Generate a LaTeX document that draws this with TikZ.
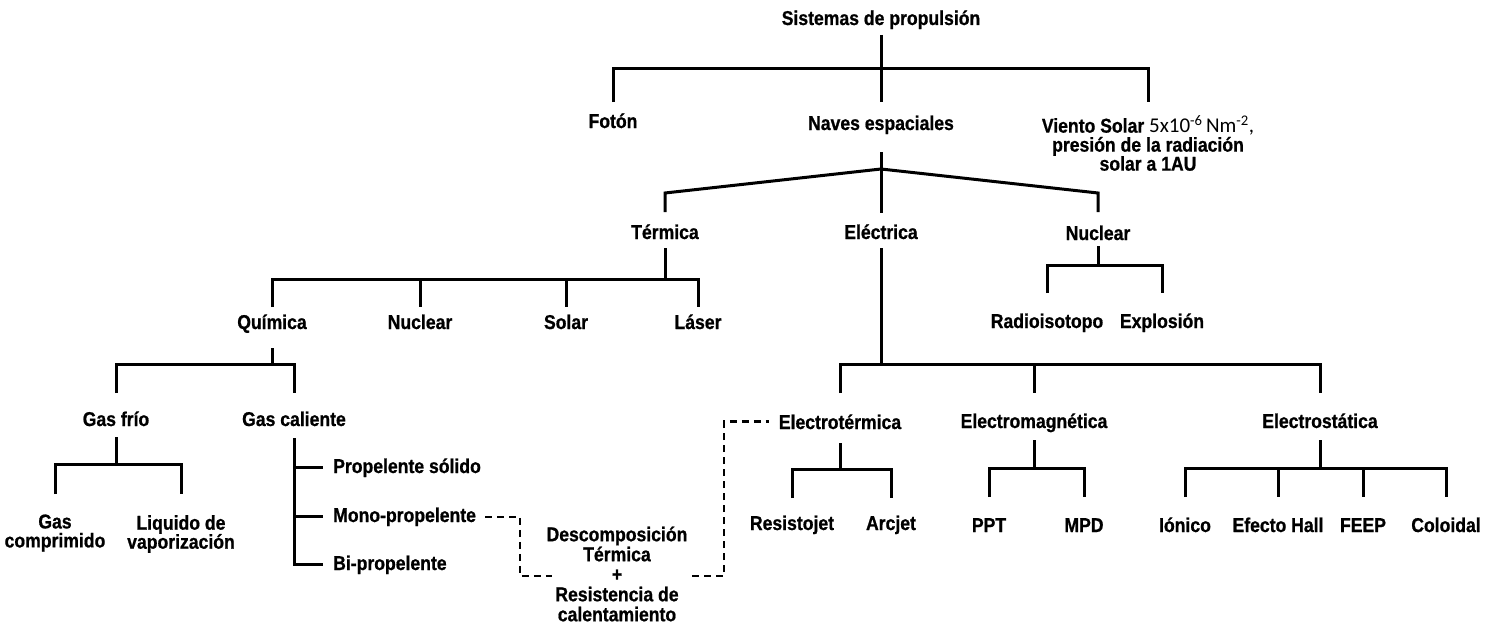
\documentclass[tikz,border=0pt]{standalone}
\usepackage{fontspec}
\newfontfamily\labfont[FakeStretch=0.88,FakeBold=0.8]{Liberation Sans Bold}
\newfontfamily\numfont{Carlito}
\begin{document}
\begin{tikzpicture}[x=1pt,y=-1pt,
  lbl/.style={inner sep=0pt, font=\labfont\fontsize{20}{20}\selectfont, anchor=base},
  mlbl/.style={inner sep=0pt, font=\labfont\fontsize{20}{19}\selectfont, align=center, anchor=center},
  tree/.style={line width=3pt, line join=miter},
  dsh/.style={line width=2.6pt, dash pattern=on 7pt off 5pt}]
\useasboundingbox (0,0) rectangle (1496,626);

% ---- nodes ----
\node[lbl] (sis) at (881,25) {Sistemas de propulsión};
\node[lbl] (fot) at (613,128) {Fotón};
\node[lbl] (nav) at (881,130) {Naves espaciales};
\node[mlbl] (vie) at (1148,143) {Viento Solar {\numfont\fontsize{21}{19}\selectfont 5x10\textsuperscript{-6}\,Nm\textsuperscript{-2},}\\presión de la radiación\\solar a 1AU};

\node[lbl] (ter) at (665,239) {Térmica};
\node[lbl] (ele) at (881,239) {Eléctrica};
\node[lbl] (nuc) at (1098,240) {Nuclear};

\node[lbl] (qui) at (272,329) {Química};
\node[lbl] (nuct) at (420,329) {Nuclear};
\node[lbl] (sol) at (566,329) {Solar};
\node[lbl] (las) at (698,329) {Láser};

\node[lbl] (rad) at (1047,328) {Radioisotopo};
\node[lbl] (exp) at (1162,328) {Explosión};

\node[lbl] (gfr) at (116,426) {Gas frío};
\node[lbl] (gca) at (294,426) {Gas caliente};

\node[lbl] (etm) at (840,429) {Electrotérmica};
\node[lbl] (emg) at (1034,428) {Electromagnética};
\node[lbl] (est) at (1320,428) {Electrostática};

\node[mlbl] (gco) at (55,533) {Gas\\comprimido};
\node[mlbl] (liq) at (181,534) {Liquido de\\vaporización};

\node[lbl, anchor=base west] (pso) at (333,473) {Propelente sólido};
\node[lbl, anchor=base west] (mon) at (333,522) {Mono-propelente};
\node[lbl, anchor=base west] (bip) at (333,570) {Bi-propelente};

\node[mlbl, font=\labfont\fontsize{20}{20}\selectfont] (des) at (617,574)
  {Descomposición\\Térmica\\+\\Resistencia de\\calentamiento};

\node[lbl] (res) at (792,530) {Resistojet};
\node[lbl] (arc) at (891,530) {Arcjet};
\node[lbl] (ppt) at (989,532) {PPT};
\node[lbl] (mpd) at (1084,532) {MPD};
\node[lbl] (ion) at (1185,532) {Iónico};
\node[lbl] (efh) at (1278,532) {Efecto Hall};
\node[lbl] (fee) at (1363,532) {FEEP};
\node[lbl] (col) at (1446,532) {Coloidal};

% ---- tree connectors ----
\draw[tree] (sis |- 0,35) -- (sis |- 0,69);
\draw[tree] (fot |- 0,102) -- (fot |- 0,69) -- (vie |- 0,69) -- (vie |- 0,102);
\draw[tree] (nav |- 0,69) -- (nav |- 0,102);

\draw[tree] (nav |- 0,152) -- (nav |- 0,213);
\draw[tree] (ter |- 0,212) -- (ter |- 0,193) -- (nav |- 0,169) -- (nuc |- 0,193) -- (nuc |- 0,212);

\draw[tree] (ter |- 0,248) -- (ter |- 0,279);
\draw[tree] (qui |- 0,307) -- (qui |- 0,279) -- (las |- 0,279) -- (las |- 0,307);
\draw[tree] (nuct |- 0,279) -- (nuct |- 0,307);
\draw[tree] (sol |- 0,279) -- (sol |- 0,307);

\draw[tree] (nuc |- 0,246) -- (nuc |- 0,265);
\draw[tree] (rad |- 0,293) -- (rad |- 0,265) -- (exp |- 0,265) -- (exp |- 0,293);

\draw[tree] (ele |- 0,248) -- (ele |- 0,364);
\draw[tree] (etm |- 0,393) -- (etm |- 0,364) -- (est |- 0,364) -- (est |- 0,393);
\draw[tree] (emg |- 0,364) -- (emg |- 0,393);

\draw[tree] (qui |- 0,348) -- (qui |- 0,364);
\draw[tree] (gfr |- 0,393) -- (gfr |- 0,364) -- (gca |- 0,364) -- (gca |- 0,393);

\draw[tree] (gfr |- 0,437) -- (gfr |- 0,464);
\draw[tree] (gco |- 0,494) -- (gco |- 0,464) -- (liq |- 0,464) -- (liq |- 0,494);

\draw[tree] (gca |- 0,438) |- ([xshift=-10pt]bip.west);
\draw[tree] (gca |- pso.west) -- ([xshift=-10pt]pso.west);
\draw[tree] (gca |- mon.west) -- ([xshift=-10pt]mon.west);

\draw[tree] (etm |- 0,443) -- (etm |- 0,469);
\draw[tree] (res |- 0,498) -- (res |- 0,469) -- (arc |- 0,469) -- (arc |- 0,498);
\draw[tree] (emg |- 0,440) -- (emg |- 0,468);
\draw[tree] (ppt |- 0,497) -- (ppt |- 0,468) -- (mpd |- 0,468) -- (mpd |- 0,497);
\draw[tree] (est |- 0,440) -- (est |- 0,468);
\draw[tree] (ion |- 0,497) -- (ion |- 0,468) -- (col |- 0,468) -- (col |- 0,497);
\draw[tree] (efh |- 0,468) -- (efh |- 0,497);
\draw[tree] (fee |- 0,468) -- (fee |- 0,497);

% ---- dashed links ----
\coordinate (dA) at (520,576);
\coordinate (dB) at (552,576);
\coordinate (dC) at (692,576);
\coordinate (dD) at (724,576);
\draw[dsh] ([xshift=9pt]mon.east) -| (dA) -- (dB);
\draw[dsh] (dC) -- (dD) |- ([xshift=-10pt]etm.west);
\end{tikzpicture}
\end{document}
